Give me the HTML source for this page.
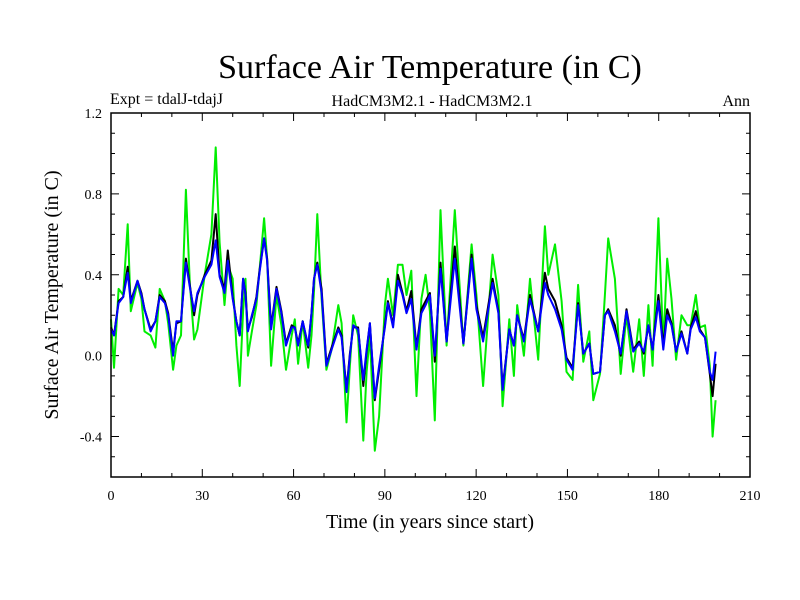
<!DOCTYPE html>
<html><head><meta charset="utf-8"><style>
body{margin:0;background:#fff}
svg{display:block;font-family:"Liberation Serif",serif}
</style></head><body>
<svg id="chart" width="800" height="600" viewBox="0 0 800 600" xmlns="http://www.w3.org/2000/svg">
<rect width="800" height="600" fill="#fff"/>
<text x="430" y="78" font-size="34" text-anchor="middle">Surface Air Temperature (in C)</text>
<text x="110" y="104" font-size="16">Expt = tdalJ-tdajJ</text>
<text x="432" y="106" font-size="16" text-anchor="middle">HadCM3M2.1 - HadCM3M2.1</text>
<text x="750" y="106" font-size="16" text-anchor="end">Ann</text>
<text x="430" y="528" font-size="20" text-anchor="middle">Time (in years since start)</text>
<text transform="translate(58,295) rotate(-90)" font-size="20" text-anchor="middle">Surface Air Temperature (in C)</text>
<g id="axes"></g>
<g id="series"></g>
<rect x="111" y="113" width="639" height="364" fill="none" stroke="#000" stroke-width="1.5"/>
</svg>
<script>
const years=[0,1,2.5,4,5.5,6.5,8.7,10,11,13,14.6,16,17.7,18.8,20.4,21.5,23,24.6,25.9,27.3,28.4,30.8,33,34.4,35.7,37.3,38.4,40,41.2,42.3,43.4,44.2,45,46.3,47.8,48.8,50.3,51.3,52.6,54.4,56,57.5,59.4,60.4,61.5,63,64.8,65.9,66.7,67.8,69.2,70.8,72.5,74.7,75.8,77.4,78.5,79.6,81.2,82.9,84,85.1,86.7,88.1,90,91,92.7,94.3,95.8,97.1,98.7,100.4,102,103.4,104.8,106.4,108.3,110.3,113,115.8,118.5,120.1,122.3,125.4,127.3,128.7,130.9,132.4,133.5,135.7,137.7,140.4,142.6,143.7,145.9,148.1,149.7,151.7,153.5,155.2,157.2,158.5,160.7,162.3,163.4,165.6,167.5,169.4,171.6,173.6,175.1,176.6,178,179.9,181.5,182.8,184.2,185.7,187.5,189.4,190.5,192.2,193.5,195.2,196.8,197.7,198.7];
const blueVals=[0.13,0.10,0.26,0.29,0.41,0.26,0.37,0.30,0.23,0.12,0.17,0.29,0.26,0.20,0.00,0.17,0.17,0.46,0.34,0.22,0.31,0.39,0.45,0.57,0.39,0.31,0.47,0.28,0.17,0.10,0.38,0.30,0.12,0.20,0.28,0.41,0.58,0.47,0.13,0.33,0.21,0.05,0.14,0.14,0.05,0.17,0.05,0.21,0.38,0.45,0.31,-0.05,0.03,0.13,0.09,-0.18,0.00,0.15,0.13,-0.12,0.03,0.16,-0.21,-0.05,0.14,0.26,0.14,0.37,0.30,0.21,0.28,0.03,0.21,0.25,0.30,0.00,0.43,0.07,0.48,0.06,0.48,0.23,0.07,0.36,0.21,-0.17,0.13,0.05,0.20,0.07,0.28,0.12,0.36,0.30,0.23,0.13,-0.02,-0.07,0.25,0.01,0.06,-0.09,-0.08,0.20,0.22,0.12,0.01,0.22,0.02,0.06,0.02,0.15,0.03,0.27,0.03,0.20,0.15,0.02,0.11,0.01,0.13,0.19,0.12,0.09,-0.08,-0.12,0.02];
const blackVals=[0.14,0.10,0.27,0.29,0.44,0.27,0.37,0.31,0.23,0.13,0.17,0.30,0.27,0.21,0.02,0.16,0.17,0.48,0.35,0.20,0.30,0.40,0.47,0.70,0.40,0.33,0.52,0.29,0.17,0.10,0.38,0.31,0.13,0.19,0.29,0.42,0.58,0.48,0.14,0.34,0.22,0.06,0.15,0.14,0.06,0.17,0.04,0.21,0.38,0.46,0.33,-0.04,0.04,0.14,0.10,-0.17,0.01,0.14,0.14,-0.15,0.02,0.16,-0.22,-0.07,0.15,0.27,0.15,0.40,0.31,0.22,0.32,0.04,0.23,0.27,0.31,-0.03,0.46,0.07,0.54,0.06,0.50,0.25,0.09,0.38,0.22,-0.16,0.13,0.05,0.20,0.08,0.30,0.12,0.41,0.33,0.27,0.15,-0.01,-0.06,0.26,0.01,0.06,-0.09,-0.08,0.20,0.23,0.15,0.00,0.23,0.03,0.07,0.01,0.15,0.03,0.30,0.05,0.23,0.16,0.02,0.12,0.01,0.14,0.22,0.13,0.09,-0.09,-0.20,-0.04];
const greenVals=[0.18,-0.06,0.33,0.30,0.65,0.22,0.36,0.28,0.12,0.10,0.04,0.33,0.27,0.16,-0.07,0.05,0.10,0.82,0.36,0.08,0.13,0.40,0.60,1.03,0.56,0.25,0.45,0.38,0.05,-0.15,0.22,0.38,0.00,0.12,0.25,0.42,0.68,0.48,-0.05,0.30,0.15,-0.07,0.10,0.18,-0.04,0.17,-0.06,0.10,0.32,0.70,0.28,-0.07,0.03,0.25,0.16,-0.33,-0.05,0.20,0.10,-0.42,-0.08,0.10,-0.47,-0.30,0.25,0.38,0.20,0.45,0.45,0.30,0.42,-0.20,0.28,0.40,0.22,-0.32,0.72,0.05,0.72,0.05,0.55,0.30,-0.15,0.50,0.30,-0.25,0.18,-0.10,0.25,0.00,0.38,-0.02,0.64,0.40,0.55,0.27,-0.08,-0.12,0.35,-0.03,0.12,-0.22,-0.09,0.30,0.58,0.38,-0.09,0.20,-0.08,0.18,-0.10,0.25,-0.05,0.68,0.05,0.48,0.28,-0.02,0.20,0.15,0.15,0.30,0.14,0.15,-0.05,-0.40,-0.22];
const xTicks=[0,30,60,90,120,150,180,210];
const yTicks=[-0.4,0.0,0.4,0.8,1.2];

const NS='http://www.w3.org/2000/svg';
const X0=111,X1=750,Y0=477,Y1=113,XMIN=0,XMAX=210,YMIN=-0.6,YMAX=1.2;
function xs(v){return X0+(v-XMIN)/(XMAX-XMIN)*(X1-X0);}
function ys(v){return Y0-(v-YMIN)/(YMAX-YMIN)*(Y0-Y1);}
const axes=document.getElementById('axes');
function mk(tag,attrs,parent){const e=document.createElementNS(NS,tag);for(const k in attrs)e.setAttribute(k,attrs[k]);parent.appendChild(e);return e;}
// x ticks (major every 30, minor every 10)
for(let v=0;v<=210;v+=10){
  const major=v%30===0,len=major?8:4;
  const t=mk('path',{d:`M${xs(v)},${Y0}v${-len}M${xs(v)},${Y1}v${len}`,stroke:'#000','stroke-width':1},axes);
  
  
}
xTicks.forEach(v=>{
  const t=mk('text',{x:xs(v),y:Y0+23,'font-size':14,'text-anchor':'middle'},axes);
  t.textContent=String(v);
  
  
});
for(let i=0;i<=18;i++){
  const v=YMIN+i*0.1,major=(i%4===2),len=major?8:4;
  const t=mk('path',{d:`M${X0},${ys(v)}h${len}M${X1},${ys(v)}h${-len}`,stroke:'#000','stroke-width':1},axes);
  
  
}
yTicks.forEach(v=>{
  const t=mk('text',{x:X0-9,y:ys(v)+5,'font-size':14,'text-anchor':'end'},axes);
  t.textContent=v.toFixed(1);
  
  
});
const series=document.getElementById('series');
function line(vals,color,name){
  const d=vals.map((v,i)=>(i?'L':'M')+xs(years[i]).toFixed(1)+','+ys(v).toFixed(1)).join('');
  const p=mk('path',{d:d,fill:'none',stroke:color,'stroke-width':2,'stroke-linejoin':'round'},series);
  
  
}
line(greenVals,'#00ee00','green-series-line');
line(blackVals,'#000000','black-series-line');
line(blueVals,'#0000ff','blue-series-line');
</script>
</body></html>
